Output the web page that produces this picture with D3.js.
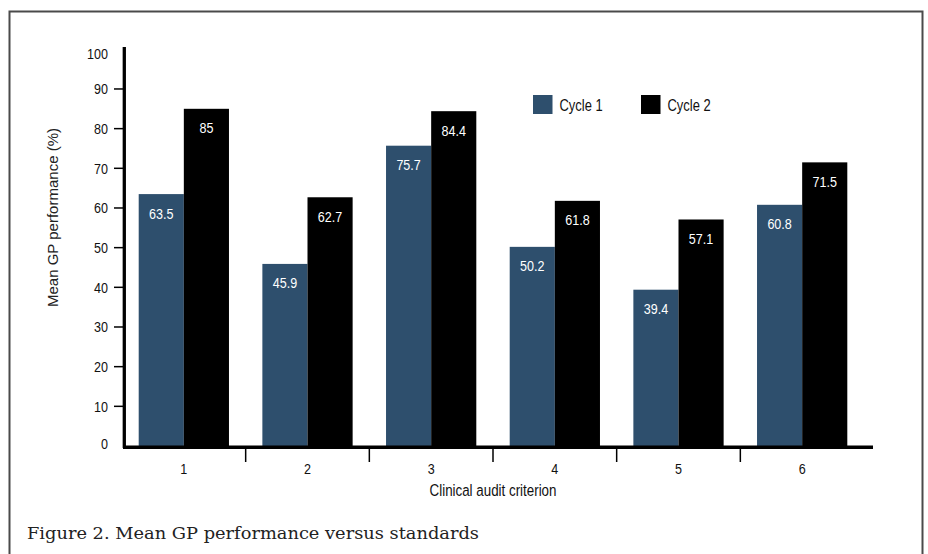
<!DOCTYPE html>
<html>
<head>
<meta charset="utf-8">
<script src="https://cdn.jsdelivr.net/npm/d3@7"></script>
<style>
  html, body { margin: 0; padding: 0; background: #fff; }
  svg { display: block; }
</style>
</head>
<body>
<svg id="chart" width="928" height="554"></svg>
<script>
// Audit criteria and mean GP performance (%) per audit cycle
const criteria = ["1", "2", "3", "4", "5", "6"];
const seriesNames = ["Cycle 1", "Cycle 2"];
const cycle1 = [63.5, 45.9, 75.7, 50.2, 39.4, 60.8];
const cycle2 = [85, 62.7, 84.4, 61.8, 57.1, 71.5];
const yTicks = [0, 10, 20, 30, 40, 50, 60, 70, 80, 90, 100];
const colors = ["#2e4f6d", "#000000"];

const rows = criteria.map((c, i) => ({ criterion: c, values: [cycle1[i], cycle2[i]] }));

const SANS = "'Liberation Sans', Arial, sans-serif";
const NARROW = 0.81; // horizontal squeeze for the condensed labels

// Condensed text: positioned by translate, narrowed by scale
function narrowText(sel, size) {
  return sel
    .attr("font-family", SANS)
    .attr("font-size", size);
}
function place(x, y) { return `translate(${x},${y}) scale(${NARROW},1)`; }

const svg = d3.select("#chart");

// Figure frame
svg.append("rect")
  .attr("x", 9.5).attr("y", 11.5)
  .attr("width", 913).attr("height", 560)
  .attr("fill", "none").attr("stroke", "#4a4a4a").attr("stroke-width", 2);

const x0 = d3.scaleBand().domain(criteria).range([122, 864]).paddingInner(0).paddingOuter(0);
const x1 = d3.scaleBand().domain(seriesNames).range([0, x0.bandwidth()]).paddingInner(0).paddingOuter(0.37);
const y = d3.scaleLinear().domain([0, 100]).range([446, 49.3]);

// Bars
const groups = svg.append("g").selectAll("g").data(rows).join("g")
  .attr("transform", d => `translate(${x0(d.criterion)},0)`);

groups.selectAll("rect").data(d => d.values.map((v, k) => ({ v, k })))
  .join("rect")
  .attr("x", d => x1(seriesNames[d.k]))
  .attr("y", d => y(d.v))
  .attr("width", x1.bandwidth())
  .attr("height", d => y(0) - y(d.v))
  .attr("fill", d => colors[d.k]);

// Value labels inside bars
groups.selectAll("text").data(d => d.values.map((v, k) => ({ v, k })))
  .join("text")
  .call(narrowText, 15.5)
  .attr("transform", d => place(x1(seriesNames[d.k]) + x1.bandwidth() / 2, y(d.v) + 24.5))
  .attr("text-anchor", "middle")
  .attr("fill", "#fff")
  .text(d => d.v);

// Y axis
const yAxis = svg.append("g");
yAxis.append("line")
  .attr("x1", 124.3).attr("x2", 124.3)
  .attr("y1", 47).attr("y2", 448)
  .attr("stroke", "#000").attr("stroke-width", 3.3);
yAxis.selectAll("line.tick").data(yTicks.filter(t => t > 0 && t < 100))
  .join("line").attr("class", "tick")
  .attr("x1", 114).attr("x2", 124)
  .attr("y1", d => y(d)).attr("y2", d => y(d))
  .attr("stroke", "#000").attr("stroke-width", 1.5);
yAxis.selectAll("text").data(yTicks)
  .join("text")
  .call(narrowText, 15.5)
  .attr("transform", d => place(108, (d === 100 ? y(d) + 4 : (d === 0 ? y(d) - 3 : y(d))) + 5.5))
  .attr("text-anchor", "end")
  .attr("fill", "#111")
  .text(d => d);

// X axis
const xAxis = svg.append("g");
xAxis.append("line")
  .attr("x1", 123).attr("x2", 873)
  .attr("y1", 447.2).attr("y2", 447.2)
  .attr("stroke", "#000").attr("stroke-width", 3.5);
xAxis.selectAll("line.tick").data(criteria.slice(1))
  .join("line").attr("class", "tick")
  .attr("x1", d => x0(d)).attr("x2", d => x0(d))
  .attr("y1", 448).attr("y2", 462)
  .attr("stroke", "#000").attr("stroke-width", 1.5);
xAxis.selectAll("text").data(criteria)
  .join("text")
  .call(narrowText, 15.5)
  .attr("transform", d => place(x0(d) + x0.bandwidth() / 2, 474))
  .attr("text-anchor", "middle")
  .attr("fill", "#111")
  .text(d => d);

// Axis titles
svg.append("text")
  .call(narrowText, 16.5)
  .attr("transform", place((x0.range()[0] + x0.range()[1]) / 2, 496))
  .attr("text-anchor", "middle")
  .attr("fill", "#111")
  .text("Clinical audit criterion");

svg.append("text")
  .attr("transform", "translate(58,217.5) rotate(-90)")
  .attr("text-anchor", "middle")
  .attr("font-family", SANS)
  .attr("font-size", 15)
  .attr("fill", "#222")
  .text("Mean GP performance (%)");

// Legend
const legend = svg.append("g").selectAll("g").data(seriesNames).join("g")
  .attr("transform", (d, i) => `translate(${[533, 641][i]},95)`);
legend.append("rect")
  .attr("width", 19.5).attr("height", 19)
  .attr("fill", (d, i) => colors[i]);
legend.append("text")
  .call(narrowText, 16)
  .attr("transform", place(26.5, 15.5))
  .attr("fill", "#111")
  .text(d => d);

// Caption
svg.append("text")
  .attr("x", 27)
  .attr("y", 538.5)
  .attr("font-family", "'DejaVu Serif', serif")
  .attr("font-size", 17)
  .attr("textLength", 452)
  .attr("lengthAdjust", "spacingAndGlyphs")
  .attr("fill", "#222")
  .text("Figure 2. Mean GP performance versus standards");
</script>
</body>
</html>
